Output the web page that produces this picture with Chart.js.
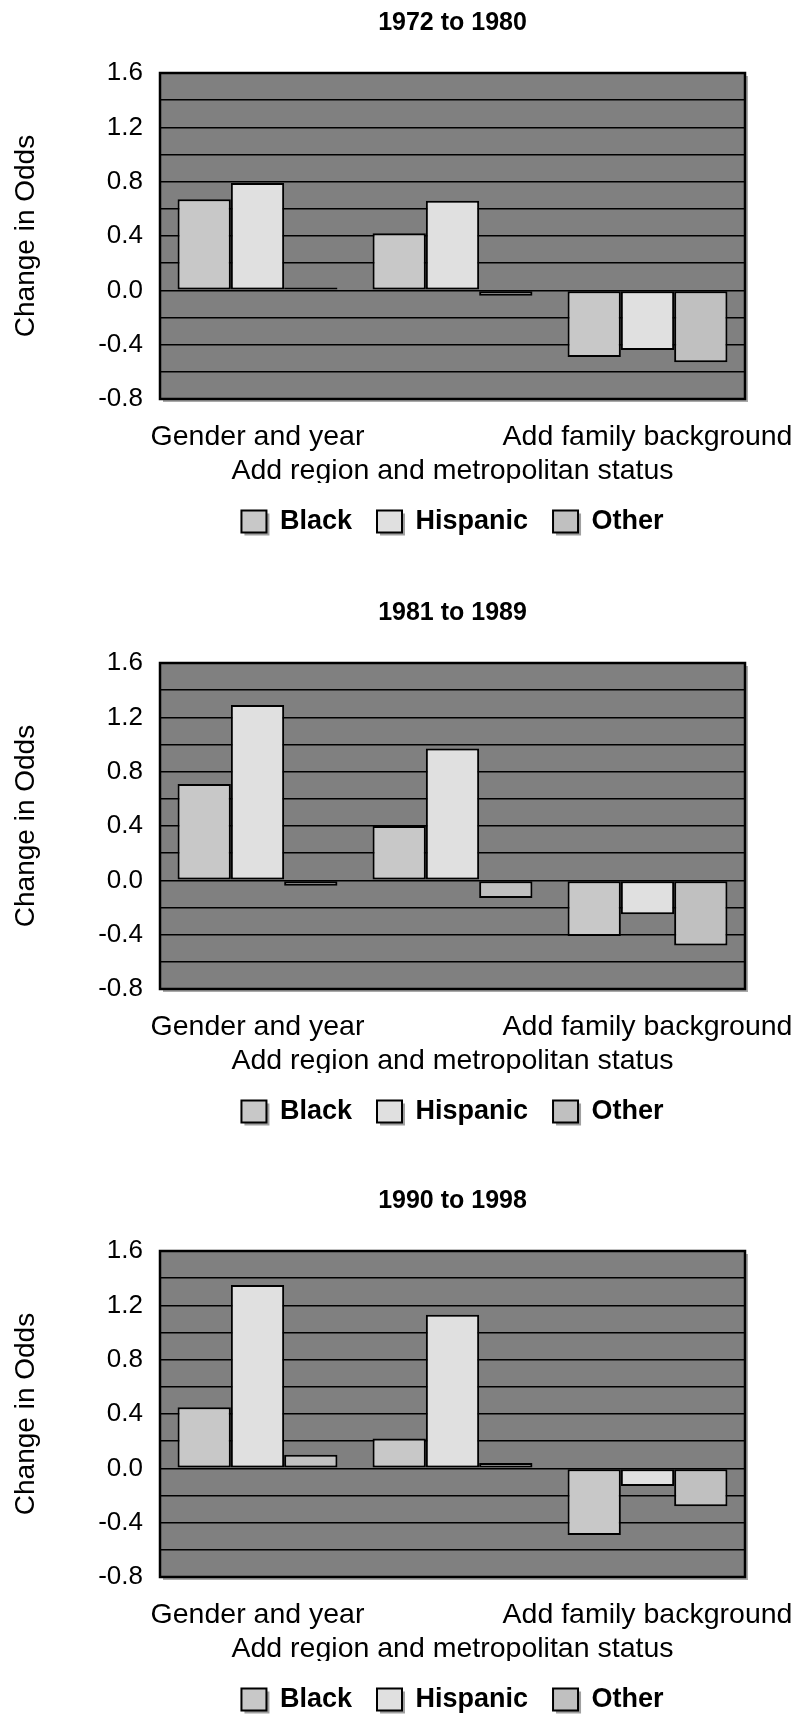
<!DOCTYPE html>
<html>
<head>
<meta charset="utf-8">
<script src="https://cdn.jsdelivr.net/npm/chart.js@4.4.1/dist/chart.umd.min.js"></script>
<style>
  html, body { margin: 0; padding: 0; background: #fff; overflow: hidden; }
  body { width: 797px; height: 1714px; position: relative; }
  canvas { position: absolute; left: 0; }
</style>
</head>
<body>
<canvas id="c1972" width="797" height="589" style="top:0px"></canvas>
<canvas id="c1981" width="797" height="589" style="top:590px"></canvas>
<canvas id="c1990" width="797" height="589" style="top:1178px"></canvas>
<script>
// Model steps on the x axis
const categories = ["Gender and year", "Add region and metropolitan status", "Add family background"]
const seriesNames = ["Black", "Hispanic", "Other"]
const seriesColors = ["#c8c8c8", "#e0e0e0", "#c0c0c0"]

// Change in odds, one array per group and period
const black1972 = [0.67, 0.42, -0.49]
const hispanic1972 = [0.79, 0.66, -0.44]
const other1972 = [0.02, -0.04, -0.53]

const black1981 = [0.71, 0.40, -0.41]
const hispanic1981 = [1.29, 0.97, -0.25]
const other1981 = [-0.04, -0.13, -0.48]

const black1990 = [0.45, 0.22, -0.49]
const hispanic1990 = [1.35, 1.13, -0.13]
const other1990 = [0.10, 0.04, -0.28]

// grid lines on the y axis; every second one gets a label
const yTicks = [-0.8, -0.6, -0.4, -0.2, 0.0, 0.2, 0.4, 0.6, 0.8, 1.0, 1.2, 1.4, 1.6]

Chart.defaults.font.family = "'Liberation Sans', Arial, Helvetica, sans-serif"
Chart.defaults.color = "#000"

// grey plot background with a drop shadow and a black frame,
// plus the little shadows under the legend boxes
const plotFrame = {
  id: "plotFrame",
  beforeDraw(chart) {
    const { ctx, chartArea: a } = chart
    ctx.save()
    ctx.fillStyle = "#a9a9a9"
    ctx.fillRect(a.left + 3, a.top + 3, a.width, a.height)
    ctx.fillStyle = "#808080"
    ctx.fillRect(a.left, a.top, a.width, a.height)

    const legend = chart.legend
    if (legend && legend.legendHitBoxes) {
      const lab = legend.options.labels
      const fontSize = lab.font.size
      ctx.fillStyle = "#a0a0a0"
      legend.legendHitBoxes.forEach(hb => {
        const yTop = hb.top + Math.max((fontSize - lab.boxHeight) / 2, 0)
        ctx.fillRect(hb.left + 3, yTop + 3, lab.boxWidth, lab.boxHeight)
      })
    }
    ctx.restore()
  },
  afterDatasetsDraw(chart) {
    const { ctx, chartArea: a } = chart
    ctx.save()
    ctx.strokeStyle = "#000"
    ctx.lineWidth = 2.5
    ctx.strokeRect(a.left, a.top, a.width, a.height)
    ctx.restore()
  }
}

function drawPanel(canvasId, title, values) {
  new Chart(document.getElementById(canvasId), {
    type: "bar",
    data: {
      labels: categories,
      datasets: seriesNames.map((name, i) => ({
        label: name,
        data: values[i],
        backgroundColor: seriesColors[i],
        borderColor: "#000",
        borderWidth: 2,
        borderSkipped: false,
        categoryPercentage: 0.82,
        barPercentage: 1.0
      }))
    },
    options: {
      responsive: false,
      animation: false,
      layout: { padding: { top: 0, right: 52, bottom: 44, left: 0 } },
      plugins: {
        title: {
          display: true,
          text: title,
          fullSize: false,
          font: { size: 25, weight: "bold" },
          padding: { top: 8, bottom: 35 }
        },
        legend: {
          position: "bottom",
          fullSize: false,
          labels: {
            font: { size: 27, weight: "bold" },
            boxWidth: 25,
            boxHeight: 22,
            padding: 25
          }
        },
        tooltip: { enabled: false }
      },
      scales: {
        x: {
          grid: { display: false, drawTicks: false },
          border: { display: false },
          ticks: {
            autoSkip: false,
            maxRotation: 0,
            padding: 21,
            font: { size: 28.5 },
            // middle label sits on a second row
            callback(value, index) {
              const label = categories[index]
              return index === 1 ? ["", label] : label
            }
          },
          afterFit(scale) {
            scale.paddingLeft = 0
            scale.paddingRight = 0
            scale.height = 84
          }
        },
        y: {
          min: yTicks[0],
          max: yTicks[yTicks.length - 1],
          grid: { color: "#000", lineWidth: 1.6, drawTicks: false },
          border: { display: false },
          ticks: {
            autoSkip: false,
            padding: 17,
            font: { size: 26 },
            callback(value, index) {
              return index % 2 === 0 ? value.toFixed(1) : ""
            }
          },
          afterBuildTicks(scale) {
            scale.ticks = yTicks.map(v => ({ value: v }))
          },
          title: {
            display: true,
            text: "Change in Odds",
            font: { size: 28 },
            padding: { top: 9, bottom: 0 }
          },
          afterFit(scale) {
            scale.width = 160
          }
        }
      }
    },
    plugins: [plotFrame]
  })
}

drawPanel("c1972", "1972 to 1980", [black1972, hispanic1972, other1972])
drawPanel("c1981", "1981 to 1989", [black1981, hispanic1981, other1981])
drawPanel("c1990", "1990 to 1998", [black1990, hispanic1990, other1990])
</script>
</body>
</html>
